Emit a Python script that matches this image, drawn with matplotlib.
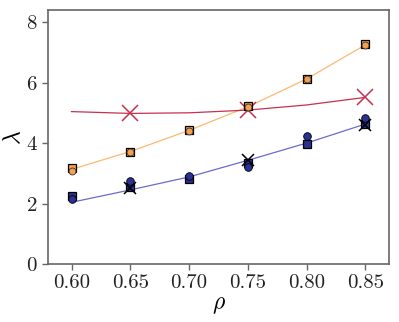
import matplotlib
matplotlib.use('Agg')
import matplotlib.pyplot as plt
import numpy as np

plt.rcParams['font.family'] = 'serif'
plt.rcParams['font.serif'] = ['cmr10']
plt.rcParams['mathtext.fontset'] = 'cm'
plt.rcParams['axes.formatter.use_mathtext'] = True

# density values
rho = [0.60, 0.65, 0.70, 0.75, 0.80, 0.85]

# orange series (squares / circles)
org_sq = [3.16, 3.71, 4.43, 5.22, 6.13, 7.27]
org_ci = [3.08, 3.70, 4.41, 5.20, 6.11, 7.25]
org_fit = [3.13, 3.72, 4.42, 5.20, 6.12, 7.25]

# blue series (squares / circles)
blu_sq = [2.26, 2.56, 2.80, 3.35, 3.96, 4.63]
blu_ci = [2.15, 2.74, 2.92, 3.22, 4.23, 4.84]
blu_fit = [2.04, 2.45, 2.88, 3.43, 4.00, 4.63]

# crosses
rho_x = [0.65, 0.75, 0.85]
red_x = [4.98, 5.09, 5.51]
blk_x = [2.50, 3.44, 4.60]
red_fit = [5.04, 4.98, 5.00, 5.09, 5.26, 5.51]

fig = plt.figure(figsize=(3.99, 3.22), dpi=100)
ax = fig.add_axes([48/399, 58/322, 341/399, 254/322])

ax.plot(rho, org_fit, color='#fdb872', lw=0.9, zorder=1)
ax.plot(rho, blu_fit, color='#6a6ad0', lw=0.9, zorder=1)
ax.plot(rho, red_fit, color='#c8304f', lw=0.9, zorder=1)

ax.plot(rho, org_sq, 's', ms=5.5, mfc='#f5a04c', mec='black', mew=0.9, ls='none', zorder=3)
ax.plot(rho, org_ci, 'o', ms=5, mfc='#f5a04c', mec='#333333', mew=0.6, ls='none', zorder=4)
ax.plot(rho, blu_sq, 's', ms=5.5, mfc='#2a3190', mec='black', mew=0.9, ls='none', zorder=3)
ax.plot(rho, blu_ci, 'o', ms=5.5, mfc='#2a3190', mec='black', mew=0.6, ls='none', zorder=4)
ax.plot(rho_x, red_x, 'x', ms=11, color='#c8304f', mew=1.1, ls='none', zorder=2)
ax.plot(rho_x, blk_x, 'x', ms=9, color='black', mew=1.1, ls='none', zorder=5)

ax.set_xlim(0.58, 0.87)
ax.set_ylim(0, 8.4)
ax.set_xticks([0.60, 0.65, 0.70, 0.75, 0.80, 0.85])
ax.set_xticklabels(['0.60', '0.65', '0.70', '0.75', '0.80', '0.85'])
ax.set_yticks([0, 2, 4, 6, 8])

for s in ax.spines.values():
    s.set_color('#666666')
    s.set_linewidth(1.2)
ax.tick_params(labelsize=15, color='#666666', length=4, width=1.0, labelcolor='#222222')

ax.set_xlabel(r'$\rho$', fontsize=17, va='center')
ax.set_ylabel(r'$\lambda$', fontsize=17, va='center')
ax.xaxis.set_label_coords(0.5, -0.16)
ax.yaxis.set_label_coords(-0.1, 0.5)

fig.savefig('out.png', dpi=100)
plt.close()
